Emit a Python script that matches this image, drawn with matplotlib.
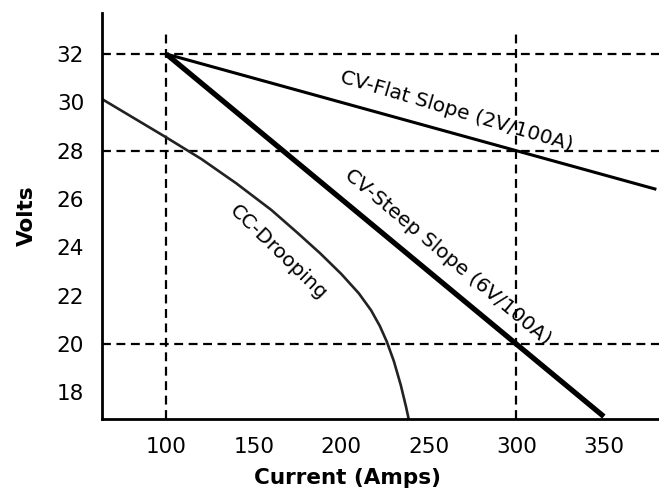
import numpy as np
import matplotlib.pyplot as plt

# характеристики источника: ток (А) и напряжение (В)
flat_amps = [100, 380]
flat_volts = [32, 26.4]

steep_amps = [100, 350]
steep_volts = [32, 17]

droop_amps = [63, 100, 120, 140, 160, 175, 188, 200, 210, 217, 222, 226, 230, 234, 237, 238.5]
droop_volts = [30.15, 28.55, 27.66, 26.65, 25.55, 24.6, 23.75, 22.9, 22.1, 21.4,
               20.75, 20.1, 19.3, 18.3, 17.4, 16.9]

grid_x = [100, 300]
grid_y = [32, 28, 20]
x_ticks = [100, 150, 200, 250, 300, 350]
y_ticks = [18, 20, 22, 24, 26, 28, 30, 32]

fig = plt.figure(figsize=(6.59, 4.97), dpi=100)
ax = fig.add_axes([0.155, 0.157, 0.845, 0.817])
ax.set_xlim(63.4, 381.5)
ax.set_ylim(16.9, 33.7)

# пунктирные линии сетки
for gx in grid_x:
    ax.vlines(gx, 16.9, 33.0, colors='black', linestyles=(0, (4, 2.5)), linewidth=1.6)
for gy in grid_y:
    ax.axhline(gy, color='black', linestyle=(0, (4, 2.5)), linewidth=1.6)

ax.plot(flat_amps, flat_volts, color='black', linewidth=2.2, solid_capstyle='butt')
ax.plot(steep_amps, steep_volts, color='black', linewidth=3.8, solid_capstyle='butt')
ax.plot(droop_amps, droop_volts, color='#222222', linewidth=1.9)

ax.text(266, 29.65, 'CV-Flat Slope (2V/100A)', rotation=-16.5, rotation_mode='anchor',
        ha='center', va='center', fontsize=14.5)
ax.text(261, 23.6, 'CV-Steep Slope (6V/100A)', rotation=-40, rotation_mode='anchor',
        ha='center', va='center', fontsize=14.5)
ax.text(164, 23.8, 'CC-Drooping', rotation=-44, rotation_mode='anchor',
        ha='center', va='center', fontsize=14.5)

ax.set_xticks(x_ticks)
ax.set_yticks(y_ticks)
ax.tick_params(length=0, labelsize=15.5, pad=13)
for s in ['top', 'right']:
    ax.spines[s].set_visible(False)
for s in ['left', 'bottom']:
    ax.spines[s].set_linewidth(2)

ax.set_ylabel('Volts', fontsize=15.5, fontweight='heavy', labelpad=14)
fig.text(347 / 659, 1 - 478 / 497, 'Current (Amps)', fontsize=15.5, fontweight='heavy',
         ha='center', va='center')

fig.savefig('out.png', dpi=100)
